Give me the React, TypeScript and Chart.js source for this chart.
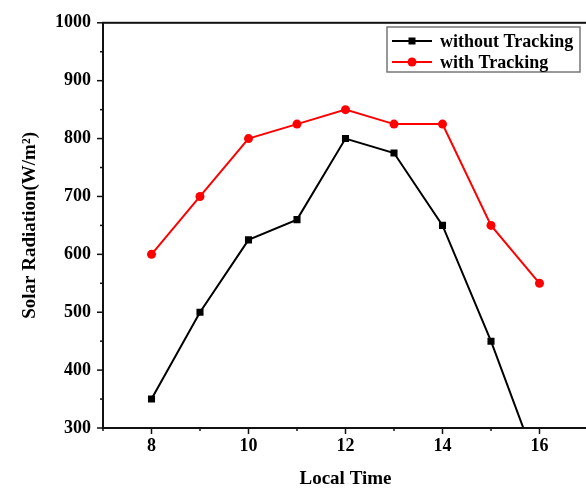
import React, { useEffect, useRef } from "react";
import { Chart, registerables } from "chart.js";

Chart.register(...registerables);

const hours = [8, 9, 10, 11, 12, 13, 14, 15, 16];
const withoutTracking = [350, 500, 625, 660, 800, 775, 650, 450, 225];
const withTracking = [600, 700, 800, 825, 850, 825, 825, 650, 550];
const seriesNames = ["without Tracking", "with Tracking"];
const xTitle = "Local Time";
const yTitle = "Solar Radiation(W/m\u00B2)";

const FONT = "'Liberation Serif', 'Times New Roman', serif";

const framePlugin = {
  id: "frameTicks",
  afterDraw(chart: any) {
    const { ctx, chartArea } = chart;
    const { left, top, right, bottom } = chartArea;
    const xs = chart.scales.x;
    const ys = chart.scales.y;
    ctx.save();
    ctx.strokeStyle = "#111";
    ctx.lineWidth = 2;
    ctx.strokeRect(left, top, right - left, bottom - top);
    ctx.lineWidth = 1.5;
    for (let v = xs.min; v <= xs.max; v += 1) {
      const px = xs.getPixelForValue(v);
      const len = v % 2 === 0 ? 6 : 3;
      ctx.beginPath();
      ctx.moveTo(px, bottom);
      ctx.lineTo(px, bottom + len);
      ctx.stroke();
    }
    for (let v = ys.min; v <= ys.max; v += 50) {
      const py = ys.getPixelForValue(v);
      const len = v % 100 === 0 ? 6 : 3;
      ctx.beginPath();
      ctx.moveTo(left, py);
      ctx.lineTo(left - len, py);
      ctx.stroke();
    }
    // legend
    const lx = 387, ly = 27, lw = 193, lh = 45;
    ctx.fillStyle = "#fff";
    ctx.fillRect(lx, ly, lw, lh);
    ctx.strokeStyle = "#777";
    ctx.lineWidth = 1.5;
    ctx.strokeRect(lx, ly, lw, lh);
    const rows = [
      { name: seriesNames[0], color: "#000", shape: "rect", y: 41 },
      { name: seriesNames[1], color: "#f00", shape: "circle", y: 62 },
    ];
    rows.forEach((r) => {
      ctx.strokeStyle = r.color;
      ctx.fillStyle = r.color;
      ctx.lineWidth = 2;
      ctx.beginPath();
      ctx.moveTo(392, r.y);
      ctx.lineTo(432, r.y);
      ctx.stroke();
      if (r.shape === "rect") {
        ctx.fillRect(412 - 3.5, r.y - 3.5, 7, 7);
      } else {
        ctx.beginPath();
        ctx.arc(412, r.y, 4.5, 0, Math.PI * 2);
        ctx.fill();
      }
      ctx.fillStyle = "#000";
      ctx.font = `bold 18px ${FONT}`;
      ctx.textBaseline = "middle";
      ctx.textAlign = "left";
      ctx.fillText(r.name, 440, r.y + 1);
    });
    ctx.restore();
  },
};

export default function App() {
  const ref = useRef<HTMLCanvasElement | null>(null);
  useEffect(() => {
    if (!ref.current) return;
    const chart = new Chart(ref.current, {
      type: "line",
      data: {
        datasets: [
          {
            label: seriesNames[0],
            data: hours.map((h, i) => ({ x: h, y: withoutTracking[i] })),
            borderColor: "#000",
            backgroundColor: "#000",
            borderWidth: 2,
            pointStyle: "rect",
            pointRadius: 5,
            pointBorderWidth: 0,
          },
          {
            label: seriesNames[1],
            data: hours.map((h, i) => ({ x: h, y: withTracking[i] })),
            borderColor: "#f00",
            backgroundColor: "#f00",
            borderWidth: 2,
            pointStyle: "circle",
            pointRadius: 4.5,
            pointBorderWidth: 0,
          },
        ],
      },
      options: {
        animation: false,
        responsive: false,
        devicePixelRatio: 1,
        layout: { padding: { top: 20, right: 3, left: 0, bottom: 0 } },
        plugins: { legend: { display: false }, tooltip: { enabled: false } },
        scales: {
          x: {
            type: "linear",
            min: 7,
            max: 17,
            border: { display: false },
            grid: { display: false, drawTicks: false },
            ticks: {
              stepSize: 1,
              padding: 8,
              color: "#000",
              font: { family: FONT, size: 18, weight: "bold" },
              callback: (v: any) => (Number(v) % 2 === 0 && v > 7 && v < 17 ? String(v) : ""),
              maxRotation: 0,
              autoSkip: false,
            },
            title: {
              display: true,
              text: xTitle,
              color: "#000",
              font: { family: FONT, size: 19, weight: "bold", lineHeight: 1 },
              padding: { top: 0, bottom: 0 },
            },
            afterFit: (s: any) => {
              s.height = 61;
            },
          },
          y: {
            min: 300,
            max: 1000,
            border: { display: false },
            grid: { display: false, drawTicks: false },
            ticks: {
              stepSize: 100,
              padding: 12,
              color: "#000",
              font: { family: FONT, size: 18, weight: "bold" },
              callback: (v: any) => String(v),
            },
            title: {
              display: true,
              text: yTitle,
              color: "#000",
              font: { family: FONT, size: 19, weight: "bold", lineHeight: 1 },
              padding: { top: 21, bottom: 0 },
            },
            afterFit: (s: any) => {
              s.width = 103;
            },
          },
        },
      },
      plugins: [framePlugin],
    } as any);
    return () => chart.destroy();
  }, []);
  return (
    <div style={{ position: "fixed", left: 0, top: 0, width: 596, height: 489, background: "#fff" }}>
      <canvas ref={ref} width={596} height={489} />
    </div>
  );
}
